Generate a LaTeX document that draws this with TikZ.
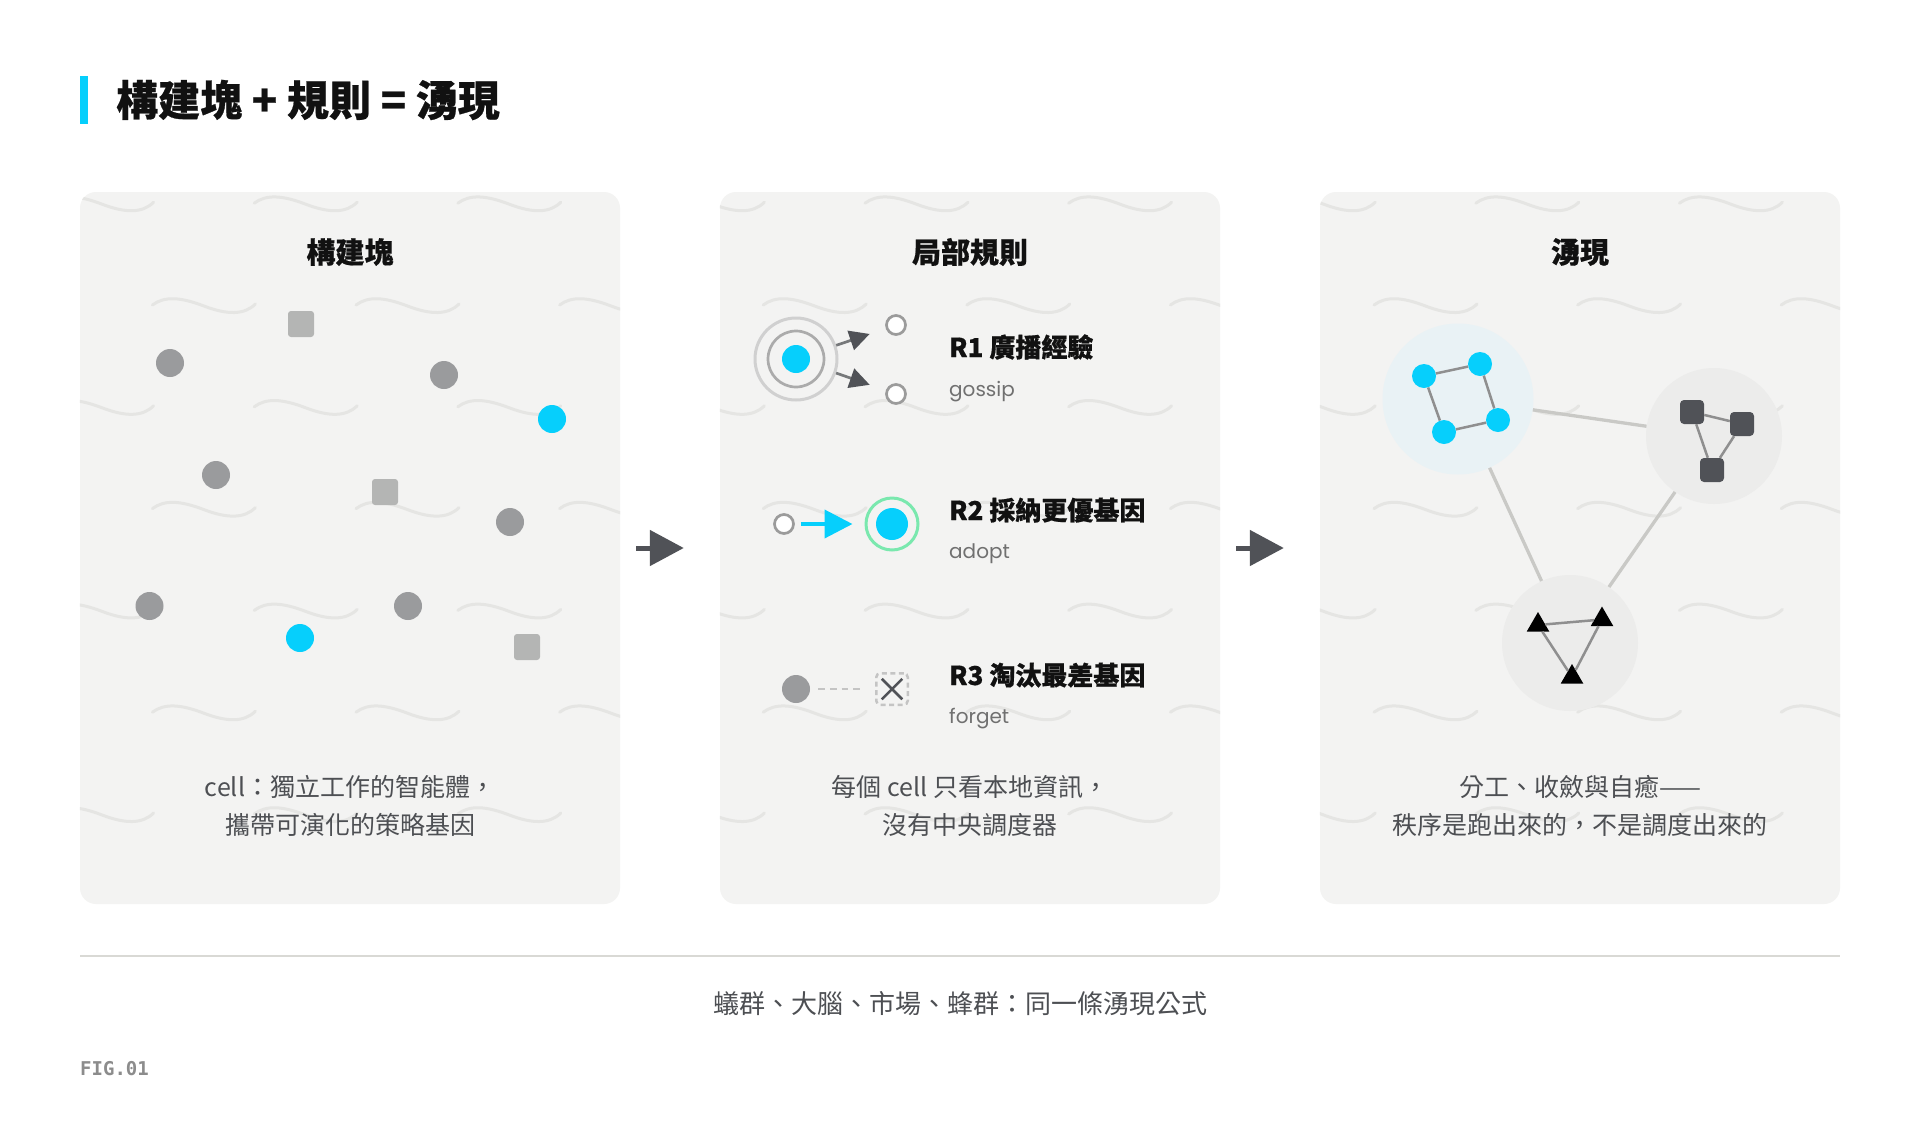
\documentclass[tikz,border=0pt]{standalone}
\usepackage{fontspec}
\setmainfont{Noto Sans CJK TC}[BoldFeatures={FakeBold=0.6}]
\newfontfamily\sublatin{Poppins}
\newfontfamily\figmono{DejaVu Sans Mono}
\usepackage{tikz}
\usetikzlibrary{arrows.meta,positioning,shapes.geometric,shapes.misc}
\tikzset{
  >=Stealth,
  every node/.append style={inner sep=0pt},
}
\tikzset{
  panel/.style={fill=paneltone, rounded corners=16pt, minimum height=712pt},
  wavestroke/.style={draw=wavetone, line width=3pt, line cap=round},
  ptitle/.style={font=\fontsize{29}{34}\selectfont\bfseries, text=inkblack},
  caption/.style={font=\fontsize{25}{38}\selectfont, text=inkgrey, align=center},
  rulelabel/.style={anchor=base west, font=\fontsize{26}{30}\selectfont\bfseries, text=inkblack},
  rulesub/.style={anchor=base west, font=\fontsize{20}{24}\selectfont\sublatin, text=subgrey},
  stagearrow/.style={draw=arrowdark, line width=5pt, -{Triangle[length=34pt,width=35pt]}}
}

\begin{document}
\begin{tikzpicture}[
  x=1pt, y=-1pt,
  cellgrey/.style={circle, fill=cellgrey, minimum size=28pt},
  cellcyan/.style={circle, fill=signalcyan, minimum size=28pt},
  block/.style={rectangle, rounded corners=3pt, fill=blockgrey, minimum size=26pt},
  hollow/.style={circle, draw=hollowgrey, fill=white, line width=2.7pt, minimum size=19pt},
  gossiparrow/.style={draw=shaftgrey, line width=2.7pt, -{Triangle[length=20pt,width=20pt,color=arrowdark]}},
  adoptarrow/.style={draw=signalcyan, line width=4pt, -{Triangle[length=28pt,width=28pt]}},
  clusterdisc/.style={circle, fill=clustertone, minimum size=136pt},
  clusterlink/.style={draw=linkgrey, line width=3.3pt},
  memberedge/.style={draw=edgegrey, line width=2.5pt},
  swarmcell/.style={circle, fill=signalcyan, minimum size=24pt},
  squadcell/.style={rectangle, rounded corners=4pt, fill=arrowdark, minimum size=24pt},
  triocell/.style={regular polygon, regular polygon sides=3, fill=black, minimum size=26pt}
]
\definecolor{signalcyan}{RGB}{6,207,252}
\definecolor{paneltone}{RGB}{243,243,242}
\definecolor{wavetone}{RGB}{229,229,227}
\definecolor{cellgrey}{RGB}{154,155,157}
\definecolor{blockgrey}{RGB}{180,181,180}
\definecolor{inkblack}{RGB}{17,17,17}
\definecolor{inkgrey}{RGB}{77,79,83}
\definecolor{subgrey}{RGB}{112,112,112}
\definecolor{arrowdark}{RGB}{80,82,87}
\definecolor{shaftgrey}{RGB}{118,120,122}
\definecolor{hollowgrey}{RGB}{155,155,155}
\definecolor{ringouter}{RGB}{208,208,208}
\definecolor{ringinner}{RGB}{171,171,171}
\definecolor{ringgreen}{RGB}{122,232,174}
\definecolor{dashgrey}{RGB}{196,196,196}
\definecolor{clustercyan}{RGB}{233,242,245}
\definecolor{clustertone}{RGB}{236,236,235}
\definecolor{linkgrey}{RGB}{201,201,198}
\definecolor{edgegrey}{RGB}{143,143,143}
\definecolor{rulegrey}{RGB}{217,217,213}
\definecolor{figgrey}{RGB}{140,140,140}

\useasboundingbox[fill=white] (0,0) rectangle (1920,1120);

% Heading
\node[fill=signalcyan, minimum width=8pt, minimum height=48pt] (bar) at (84,100) {};
\node[anchor=west, font=\fontsize{42}{50}\selectfont\bfseries, text=inkblack] (heading) at (116,100) {構建塊 + 規則 = 湧現};

% Panels with wave texture
\node[panel, minimum width=540pt] (blocks) at (350,548) {};
\node[panel, minimum width=500pt] (rules) at (970,548) {};
\node[panel, minimum width=520pt] (emerge) at (1580,548) {};
\foreach \p in {blocks,rules,emerge}{
  \begin{scope}
    \clip[rounded corners=16pt] (\p.north west) rectangle (\p.south east);
    \foreach \i in {0,...,9}
      \foreach \j in {0,...,3}{
        \draw[wavestroke, shift={(50.6+203.6*\i,203.2+203.6*\j)}] (0,0) .. controls (12,-9) and (28,-8) .. (51.5,1) .. controls (75,10) and (92,10) .. (103,-1);
        \draw[wavestroke, shift={(152.4+203.6*\i,305+203.6*\j)}] (0,0) .. controls (12,-9) and (28,-8) .. (51.5,1) .. controls (75,10) and (92,10) .. (103,-1);
      }
  \end{scope}
}

\node[ptitle] (blockstitle) at (350,252) {構建塊};
\node[ptitle] (rulestitle) at (970,252) {局部規則};
\node[ptitle] (emergetitle) at (1580,252) {湧現};

\draw[stagearrow] ([xshift=16pt]blocks.east) -- ([xshift=-36pt]rules.west);
\draw[stagearrow] ([xshift=16pt]rules.east) -- ([xshift=-36pt]emerge.west);

% Building blocks
\foreach \x/\y [count=\i] in {170/363, 444/375, 216/475, 510/522, 149.5/606, 408/606}
  \node[cellgrey] (grey\i) at (\x,\y) {};
\node[cellcyan] (cyan1) at (552,419) {};
\node[cellcyan] (cyan2) at (300,638) {};
\foreach \x/\y [count=\i] in {301/324, 385/492, 527/647}
  \node[block] (block\i) at (\x,\y) {};

\node[caption] (blockscap) at (350,806) {cell：獨立工作的智能體，\\攜帶可演化的策略基因};

% Local rules
\node[circle, draw=ringouter, line width=3pt, minimum size=82pt] (gossipsrc) at (796,359) {};
\node[circle, draw=ringinner, line width=2.7pt, minimum size=56pt] at (gossipsrc) {};
\node[cellcyan] at (gossipsrc) {};
\node[hollow] (gossiptop) at (896,325) {};
\node[hollow] (gossipbot) at (896,394) {};
\draw[gossiparrow, shorten >=17pt] (gossipsrc) -- (gossiptop);
\draw[gossiparrow, shorten >=17pt] (gossipsrc) -- (gossipbot);
\node[rulelabel] (gossiplabel) at (949,357) {R1 廣播經驗};
\node[rulesub] (gossipsub) at (949,396) {gossip};

\node[hollow] (adoptsrc) at (784,524) {};
\node[circle, draw=ringgreen, line width=3pt, minimum size=52pt] (adoptdst) at (892,524) {};
\node[circle, fill=signalcyan, minimum size=32pt] at (adoptdst) {};
\draw[adoptarrow, shorten <=6pt, shorten >=12pt] (adoptsrc) -- (adoptdst);
\node[rulelabel] (adoptlabel) at (949,520) {R2 採納更優基因};
\node[rulesub] (adoptsub) at (949,558) {adopt};

\node[cellgrey] (forgetsrc) at (796,689) {};
\node[rectangle, draw=dashgrey, line width=2.5pt, dash pattern=on 5pt off 3.5pt, rounded corners=4pt, minimum size=31.5pt] (forgetbox) at (892,689) {};
\node[cross out, draw=arrowdark, line width=2.5pt, minimum size=18pt] at (forgetbox) {};
\draw[dashgrey, line width=2.2pt, dash pattern=on 6.7pt off 5pt, shorten <=8pt, shorten >=15pt] (forgetsrc) -- (forgetbox);
\node[rulelabel] (forgetlabel) at (949,685) {R3 淘汰最差基因};
\node[rulesub] (forgetsub) at (949,723) {forget};

\node[caption] (rulescap) at (970,806) {每個 cell 只看本地資訊，\\沒有中央調度器};

% Emergence
\node[clusterdisc, fill=clustercyan, minimum size=151pt] (swarm) at (1458,399) {};
\node[clusterdisc] (squad) at (1714,436) {};
\node[clusterdisc] (trio) at (1570,643) {};
\draw[clusterlink] (swarm) -- (squad);
\draw[clusterlink] (swarm) -- (trio);
\draw[clusterlink] (squad) -- (trio);

\foreach \x/\y [count=\i] in {1424/376, 1480/364, 1498/420, 1444/432}
  \node[swarmcell] (m\i) at (\x,\y) {};
\draw[memberedge] (m1) -- (m2) -- (m3) -- (m4) -- (m1);

\foreach \x/\y [count=\i] in {1692/412, 1742/424, 1712/470}
  \node[squadcell] (s\i) at (\x,\y) {};
\draw[memberedge] (s1) -- (s2) -- (s3) -- (s1);

\foreach \x/\y [count=\i] in {1538/625, 1602/619.5, 1572/677}
  \node[triocell] (t\i) at (\x,\y) {};
\draw[memberedge] (t1) -- (t2) -- (t3) -- (t1);

\node[caption] (emergecap) at (1580,806) {分工、收斂與自癒——\\秩序是跑出來的，不是調度出來的};

% Footer
\draw[rulegrey, line width=2pt] (80,956) -- (1840,956);
\node[font=\fontsize{26}{30}\selectfont, text=inkgrey] (motto) at (960,1004) {蟻群、大腦、市場、蜂群：同一條湧現公式};
\node[anchor=west, font=\fontsize{19}{21}\selectfont\figmono\bfseries, text=figgrey] (figtag) at (80,1069) {FIG.01};
\end{tikzpicture}
\end{document}
